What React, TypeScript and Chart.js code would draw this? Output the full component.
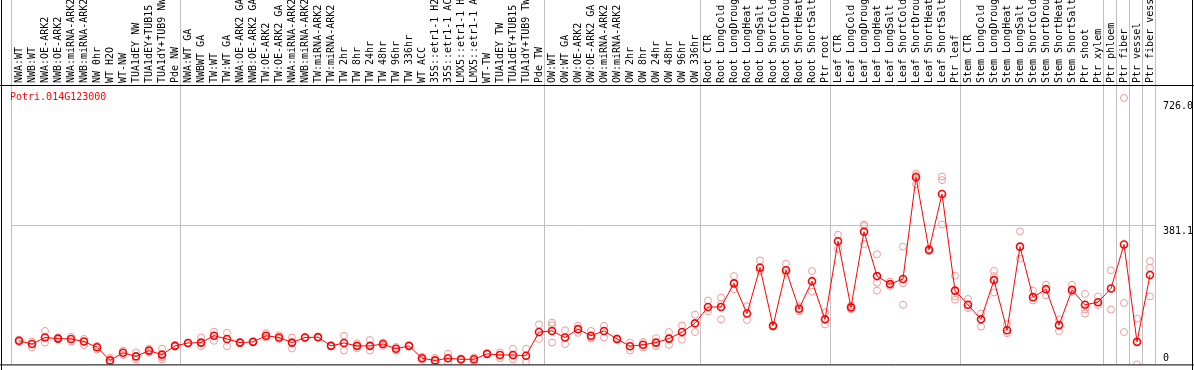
import React, { useEffect, useRef } from 'react';
import { Chart, registerables } from 'chart.js';

Chart.register(...registerables);

const GENE = 'Potri.014G123000';

const LABELS: string[] = [
  'NWA:WT', 'NWB:WT', 'NWA:OE-ARK2', 'NWB:OE-ARK2', 'NWA:miRNA-ARK2', 'NWB:miRNA-ARK2', 'NW 0hr', 'WT H2O', 'WT-NW',
  'TUA1dEY NW', 'TUA1dEY+TUB15 NW', 'TUA1dY+TUB9 NW', 'Pde NW',
  'NWA:WT GA', 'NWBWT GA', 'TW:WT', 'TW:WT GA', 'NWA:OE-ARK2 GA', 'NWB:OE-ARK2 GA', 'TW:OE-ARK2', 'TW:OE-ARK2 GA',
  'NWA:miRNA-ARK2 GA', 'NWB:miRNA-ARK2 GA', 'TW:miRNA-ARK2', 'TW:miRNA-ARK2', 'TW 2hr', 'TW 8hr', 'TW 24hr', 'TW 48hr',
  'TW 96hr', 'TW 336hr', 'WT ACC', '35S::etr1-1 H2O', '35S::etr1-1 ACC', 'LMX5::etr1-1 H2O', 'LMX5::etr1-1 ACC',
  'WT-TW', 'TUA1dEY TW', 'TUA1dEY+TUB15 TW', 'TUA1dY+TUB9 TW', 'Pde TW',
  'OW:WT', 'OW:WT GA', 'OW:OE-ARK2', 'OW:OE-ARK2 GA', 'OW:miRNA-ARK2', 'OW:miRNA-ARK2', 'OW 2hr', 'OW 8hr', 'OW 24hr',
  'OW 48hr', 'OW 96hr', 'OW 336hr',
  'Root CTR', 'Root LongCold', 'Root LongDrought', 'Root LongHeat', 'Root LongSalt', 'Root ShortCold', 'Root ShortDrought',
  'Root ShortHeat', 'Root ShortSalt', 'Ptr root',
  'Leaf CTR', 'Leaf LongCold', 'Leaf LongDrought', 'Leaf LongHeat', 'Leaf LongSalt', 'Leaf ShortCold', 'Leaf ShortDrought',
  'Leaf ShortHeat', 'Leaf ShortSalt', 'Ptr leaf',
  'Stem CTR', 'Stem LongCold', 'Stem LongDrought', 'Stem LongHeat', 'Stem LongSalt', 'Stem ShortCold', 'Stem ShortDrought',
  'Stem ShortHeat', 'Stem ShortSalt', 'Ptr shoot', 'Ptr xylem', 'Ptr phloem', 'Ptr fiber', 'Ptr vessel', 'Ptr fiber vessel',
];

const MEAN: number[] = [
  65, 56, 74, 71, 70, 63, 47, 11, 32, 22, 38, 27, 51,
  59, 60, 79, 70, 60, 62, 79, 74, 60, 74, 75, 51, 59, 51, 51, 56, 43, 51, 17, 11, 17, 14, 14, 29, 26, 26, 24, 89,
  92, 74, 97, 79, 92, 70, 50, 54, 60, 71, 89, 113,
  158, 158, 223, 140, 266, 106, 259, 153, 229, 124,
  339, 157, 365, 243, 221, 235, 515, 315, 469, 203,
  164, 124, 232, 94, 324, 185, 207, 108, 205, 164, 171, 209, 330, 62, 246,
];

const REP1: number[] = [
  68, 63, 92, 74, 76, 70, 51, 18, 38, 33, 43, 43, 53,
  60, 74, 90, 87, 61, 63, 86, 80, 74, 75, 76, 52, 79, 58, 67, 60, 48, 52, 21, 18, 29, 16, 19, 30, 33, 43, 43, 110,
  115, 94, 106, 92, 106, 72, 60, 62, 72, 89, 107, 137,
  176, 184, 243, 160, 286, 108, 277, 160, 257, 144,
  357, 162, 385, 303, 228, 324, 525, 318, 517, 244,
  180, 140, 257, 110, 366, 203, 219, 124, 219, 194, 187, 259, 733, 126, 284,
];

const REP2: number[] = [
  62, 47, 60, 70, 63, 53, 41, 5, 26, 13, 33, 20, 49,
  58, 50, 65, 50, 59, 61, 74, 70, 44, 73, 74, 50, 38, 44, 38, 51, 38, 50, 13, 2, 6, 12, 9, 28, 17, 14, 6, 70,
  108, 56, 87, 74, 74, 68, 38, 46, 50, 54, 68, 89,
  146, 166, 207, 122, 257, 104, 252, 146, 200, 110,
  318, 152, 381, 225, 216, 223, 519, 312, 507, 187,
  155, 104, 243, 86, 291, 176, 190, 92, 200, 151, 164, 151, 169, 0, 266,
];

const REP3: (number | null)[] = [
  null, null, null, null, null, null, null, null, null, null, null, 14, null,
  null, null, null, null, null, null, null, null, null, null, null, null, null, null, null, null, null, null, null, null,
  null, null, null, null, null, null, null, null,
  60, null, null, 71, null, null, null, null, null, null, null, null,
  null, 124, null, null, null, null, null, null, null, null,
  null, null, 331, 203, null, 164, 496, null, 385, 178,
  null, null, 198, null, null, null, null, null, null, 140, null, null, 89, null, 187,
];

const Y_TICKS: number[] = [0, 381.1, 726.0];
const Y_TICK_LABELS: string[] = ['0', '381.1', '726.0'];
const GRID_TICK = 381.1;
const GROUP_BOUNDS: number[] = [0, 13, 41, 53, 63, 73, 84, 85, 86, 87, 88];

const FONT = '10px "DejaVu Sans Mono", "Liberation Mono", monospace';

const decor = {
  id: 'decor',
  beforeDatasetsDraw(chart: any) {
    const { ctx, chartArea: a, scales } = chart;
    const x = scales.x;
    const y = scales.y;
    ctx.save();
    ctx.strokeStyle = '#c0c0c0';
    ctx.lineWidth = 1;
    const bx = GROUP_BOUNDS.map((b) => Math.floor(x.getPixelForValue(b - 0.5)) - 1 + 0.5);
    ctx.beginPath();
    bx.forEach((lx) => {
      ctx.moveTo(lx, 0);
      ctx.lineTo(lx, a.bottom);
    });
    const gy = Math.floor(y.getPixelForValue(GRID_TICK)) + 0.5;
    ctx.moveTo(bx[0], gy);
    ctx.lineTo(bx[bx.length - 1], gy);
    ctx.stroke();
    ctx.restore();
  },
  afterDraw(chart: any) {
    const { ctx, chartArea: a, scales, width, height } = chart;
    const x = scales.x;
    const y = scales.y;
    ctx.save();
    // header labels
    ctx.font = FONT;
    ctx.fillStyle = '#000000';
    ctx.textAlign = 'left';
    ctx.textBaseline = 'middle';
    LABELS.forEach((lab, i) => {
      const px = x.getPixelForValue(i);
      ctx.save();
      ctx.translate(px + 0.5, a.top - 3);
      ctx.rotate(-Math.PI / 2);
      ctx.fillText(lab, 0, 0);
      ctx.restore();
    });
    // frame
    ctx.strokeStyle = '#000000';
    ctx.lineWidth = 1;
    ctx.beginPath();
    ctx.moveTo(0, a.top - 0.5);
    ctx.lineTo(width, a.top - 0.5);
    ctx.moveTo(0, a.bottom + 0.5);
    ctx.lineTo(width, a.bottom + 0.5);
    ctx.moveTo(1.5, 0);
    ctx.lineTo(1.5, height);
    ctx.moveTo(width - 1.5, 0);
    ctx.lineTo(width - 1.5, height);
    ctx.stroke();
    // gene title
    ctx.fillStyle = '#ff0000';
    ctx.textBaseline = 'middle';
    ctx.fillText(GENE, a.left - 2.5, a.top + 11);
    // y labels
    ctx.fillStyle = '#000000';
    Y_TICKS.forEach((v, i) => {
      const py = y.getPixelForValue(v);
      if (v === 0) {
        ctx.textBaseline = 'bottom';
        ctx.fillText(Y_TICK_LABELS[i], a.right + 6.5, py - 1);
      } else {
        ctx.textBaseline = 'top';
        ctx.fillText(Y_TICK_LABELS[i], a.right + 6.5, py + 1);
      }
    });
    ctx.restore();
  },
};

export default function App() {
  const ref = useRef<HTMLCanvasElement | null>(null);
  useEffect(() => {
    document.body.style.margin = '0';
    const canvas = ref.current;
    if (!canvas) return;
    const reps: { x: number; y: number }[] = [];
    [REP1, REP2, REP3].forEach((arr) => {
      arr.forEach((v, i) => {
        if (v !== null && v !== undefined) reps.push({ x: i, y: v });
      });
    });
    const chart = new Chart(canvas, {
      type: 'scatter',
      data: {
        datasets: [
          {
            label: 'mean',
            data: MEAN.map((v, i) => ({ x: i, y: v })),
            showLine: true,
            borderColor: '#ff0000',
            borderWidth: 1,
            pointRadius: 3.5,
            pointBorderWidth: 1.6,
            pointBorderColor: '#ff0000',
            pointBackgroundColor: 'rgba(0,0,0,0)',
            order: 0,
          },
          {
            label: 'replicates',
            data: reps,
            showLine: false,
            pointRadius: 3.5,
            pointBorderWidth: 1,
            pointBorderColor: '#f09a9a',
            pointBackgroundColor: 'rgba(0,0,0,0)',
            order: 1,
          },
        ],
      },
      options: {
        responsive: false,
        animation: false,
        devicePixelRatio: 1,
        layout: { padding: { left: 12.5, right: 37.5, top: 86, bottom: 1 } },
        plugins: { legend: { display: false }, tooltip: { enabled: false } },
        scales: {
          x: { type: 'linear', min: -0.5, max: LABELS.length - 0.5, display: false },
          y: { type: 'linear', min: 0, max: 766, display: false },
        },
      },
      plugins: [decor],
    });
    return () => chart.destroy();
  }, []);
  return <canvas ref={ref} width={1194} height={370} style={{ display: 'block', width: 1194, height: 370 }} />;
}
